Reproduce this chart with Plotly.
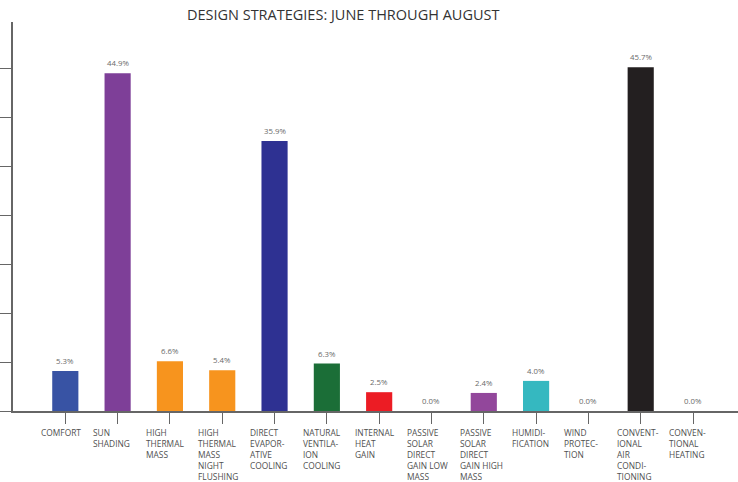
import plotly.graph_objects as go

# Design strategy categories (line breaks as set on the chart)
categories = [
    "COMFORT",
    "SUN<br>SHADING",
    "HIGH<br>THERMAL<br>MASS",
    "HIGH<br>THERMAL<br>MASS<br>NIGHT<br>FLUSHING",
    "DIRECT<br>EVAPOR-<br>ATIVE<br>COOLING",
    "NATURAL<br>VENTILA-<br>ION<br>COOLING",
    "INTERNAL<br>HEAT<br>GAIN",
    "PASSIVE<br>SOLAR<br>DIRECT<br>GAIN LOW<br>MASS",
    "PASSIVE<br>SOLAR<br>DIRECT<br>GAIN HIGH<br>MASS",
    "HUMIDI-<br>FICATION",
    "WIND<br>PROTEC-<br>TION",
    "CONVENT-<br>IONAL<br>AIR<br>CONDI-<br>TIONING",
    "CONVEN-<br>TIONAL<br>HEATING",
]

# Share of hours (%) for each strategy
percent = [5.3, 44.9, 6.6, 5.4, 35.9, 6.3, 2.5, 0.0, 2.4, 4.0, 0.0, 45.7, 0.0]

bar_colors = [
    "#3853a4", "#7e3f98", "#f7941e", "#f7941e", "#2e3192", "#1b6e37",
    "#ec1c24", "#92479b", "#92479b", "#35b8c0", "#35b8c0", "#231f20", "#231f20",
]

x_pos = list(range(len(categories)))
FONT = "Open Sans"

fig = go.Figure(
    go.Bar(
        x=x_pos,
        y=percent,
        marker=dict(color=bar_colors, line=dict(width=0)),
        width=0.5,
        hoverinfo="skip",
    )
)

annotations = []
# value labels above the bars
for xi, v in zip(x_pos, percent):
    annotations.append(dict(
        x=xi, y=v, xref="x", yref="y",
        text=f"{v:.1f}%", showarrow=False,
        xanchor="center", yanchor="bottom", yshift=3,
        font=dict(family=FONT, size=7.8, color="#6a6a6a"),
    ))
# category labels below the axis, left aligned
for xi, c in zip(x_pos, categories):
    annotations.append(dict(
        x=xi - 0.5, y=0, xref="x", yref="y",
        text=c, showarrow=False, align="left",
        xanchor="left", yanchor="top", yshift=-14,
        font=dict(family=FONT, size=8.4, color="#505050"),
    ))

fig.update_layout(
    width=738, height=482,
    margin=dict(l=13, r=0, t=22, b=71),
    paper_bgcolor="white", plot_bgcolor="white",
    showlegend=False,
    title=dict(
        text="DESIGN STRATEGIES: JUNE THROUGH AUGUST",
        x=0.465, xanchor="center", y=0.969, yanchor="middle",
        font=dict(family=FONT, size=14.5, color="#333333"),
    ),
    xaxis=dict(
        range=[-1, 12.86], showgrid=False, zeroline=False,
        showline=True, linecolor="#666666", linewidth=1.5,
        tickmode="array", tickvals=x_pos, showticklabels=False,
        ticks="outside", ticklen=11, tickcolor="#666666", tickwidth=1.3,
    ),
    yaxis=dict(
        range=[0, 51.7], showgrid=False, zeroline=False,
        showline=True, linecolor="#666666", linewidth=1.5,
        tick0=0, dtick=6.5, showticklabels=False,
        ticks="outside", ticklen=13, tickcolor="#666666", tickwidth=1.3,
    ),
    annotations=annotations,
)

fig.write_html("out.html")
